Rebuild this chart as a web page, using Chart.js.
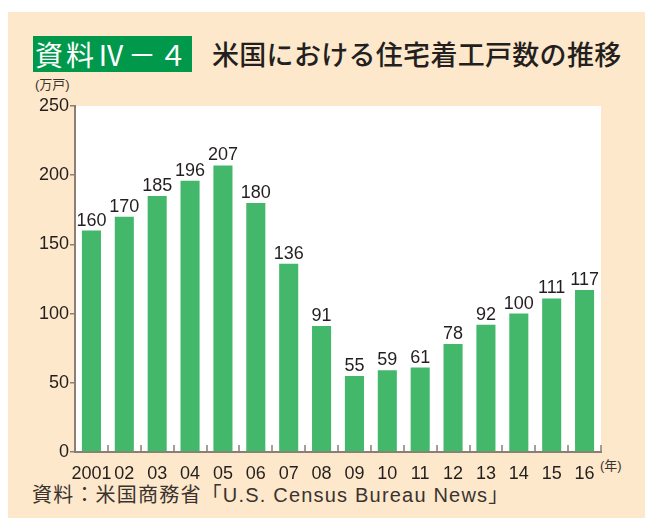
<!DOCTYPE html>
<html lang="ja">
<head>
<meta charset="utf-8">
<script src="https://cdn.jsdelivr.net/npm/chart.js@4.4.1/dist/chart.umd.min.js"></script>
<style>
  body { margin: 0; background: #fff; width: 645px; height: 518px; overflow: hidden; position: relative; font-family: "Noto Sans CJK JP", sans-serif; }
  .panel { position: absolute; left: 8px; top: 12px; width: 637px; height: 506px; background: #fde8cb; }
  .badge { position: absolute; left: 33px; top: 36px; width: 159px; height: 36px; background: #00984a; color: #fff; font-size: 28px; line-height: 36px; text-align: center; letter-spacing: 3px; }
  .title { position: absolute; left: 212px; top: 35px; font-size: 27px; line-height: 38px; color: #231f20; font-weight: 500; letter-spacing: 0.3px; }
  .unit { position: absolute; font-size: 13px; line-height: 15px; color: #3a3330; font-family: "Liberation Sans", "Noto Sans CJK JP", sans-serif; }
  .source { position: absolute; left: 32px; top: 482px; font-size: 20px; line-height: 26px; color: #3a3330; font-family: "Liberation Sans", "Noto Sans CJK JP", sans-serif; letter-spacing: 1.2px; }
  canvas { position: absolute; left: 0; top: 0; }
</style>
</head>
<body>
<div class="panel"></div>
<div class="badge">資料Ⅳ－４</div>
<div class="title">米国における住宅着工戸数の推移</div>
<div class="unit" style="left:35px; top:77px;">(万戸)</div>
<div class="unit" style="left:600px; top:458px;">(年)</div>
<div class="source">資料：米国商務省「U.S. Census Bureau News」</div>
<canvas id="chart" width="645" height="518"></canvas>
<script>
const years = ["2001", "02", "03", "04", "05", "06", "07", "08", "09", "10", "11", "12", "13", "14", "15", "16"];
const starts = [160, 170, 185, 196, 207, 180, 136, 91, 55, 59, 61, 78, 92, 100, 111, 117];
const yTicks = [0, 50, 100, 150, 200, 250];

const axisColor = "#8a7e75";
const textColor = "#231f20";

// white plot background + inner x ticks + value labels
const decor = {
  id: "decor",
  beforeDraw(chart) {
    const a = chart.chartArea, ctx = chart.ctx;
    ctx.save();
    ctx.fillStyle = "#fff";
    ctx.fillRect(a.left, a.top, a.right - a.left, a.bottom - a.top);
    ctx.restore();
  },
  afterDraw(chart) {
    const ctx = chart.ctx, x = chart.scales.x, a = chart.chartArea;
    const half = (x.getPixelForValue(1) - x.getPixelForValue(0)) / 2;
    ctx.save();
    ctx.strokeStyle = axisColor;
    ctx.lineWidth = 1.5;
    years.forEach((_, i) => {
      const px = Math.round(x.getPixelForValue(i) + half);
      ctx.beginPath();
      ctx.moveTo(px, a.bottom);
      ctx.lineTo(px, a.bottom - 7);
      ctx.stroke();
    });
    ctx.fillStyle = textColor;
    ctx.font = "18px 'Liberation Sans', Arial, sans-serif";
    ctx.textAlign = "center";
    ctx.textBaseline = "bottom";
    chart.getDatasetMeta(0).data.forEach((bar, i) => {
      ctx.fillText(String(starts[i]), bar.x, bar.y - 1);
    });
    ctx.restore();
  }
};

new Chart(document.getElementById("chart"), {
  type: "bar",
  data: {
    labels: years,
    datasets: [{
      data: starts,
      backgroundColor: "#43b86a",
      categoryPercentage: 1,
      barPercentage: 0.58
    }]
  },
  options: {
    responsive: false,
    animation: false,
    layout: { padding: { left: 25, right: 44, top: 106, bottom: 26 } },
    plugins: { legend: { display: false }, tooltip: { enabled: false } },
    scales: {
      x: {
        grid: { display: false },
        border: { display: true, color: axisColor, width: 2 },
        ticks: {
          color: textColor,
          autoSkip: false,
          maxRotation: 0,
          padding: 3,
          font: (c) => c.index === 0
            ? { family: "'Liberation Sans Narrow', 'Liberation Sans', sans-serif", size: 18 }
            : { family: "'Liberation Sans', Arial, sans-serif", size: 18 }
        },
        afterFit(s) { s.height = 40; }
      },
      y: {
        min: 0,
        max: 250,
        afterBuildTicks(s) { s.ticks = yTicks.map(v => ({ value: v })); },
        grid: { drawOnChartArea: false, drawTicks: true, tickLength: 5, color: axisColor, lineWidth: 1.5 },
        border: { display: true, color: axisColor, width: 2 },
        ticks: {
          color: textColor,
          padding: 1,
          font: { family: "'Liberation Sans', Arial, sans-serif", size: 18 }
        },
        afterFit(s) { s.width = 50; }
      }
    }
  },
  plugins: [decor]
});
</script>
</body>
</html>
